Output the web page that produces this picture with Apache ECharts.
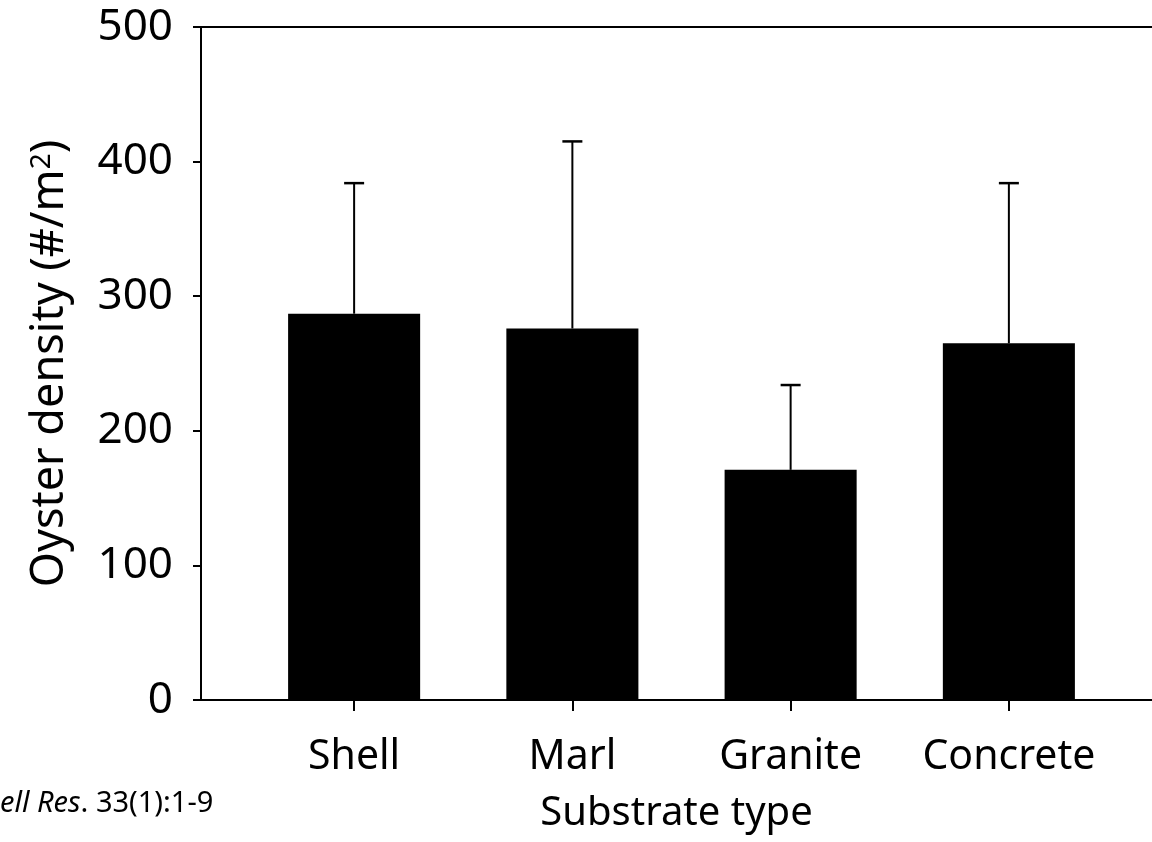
<!DOCTYPE html>
<html><head><meta charset="utf-8">
<script src="https://cdn.jsdelivr.net/npm/echarts@6/dist/echarts.min.js"></script>
<style>html,body{margin:0;padding:0;background:#fff}#c{width:1152px;height:842px}</style>
</head><body><div id="c"></div>
<script>
const categories = ['Shell', 'Marl', 'Granite', 'Concrete'];
const means = [287, 276, 171, 265];
const upperErr = [384, 415, 234, 384];
const yTicks = [0, 100, 200, 300, 400, 500];

const FONT = 'Noto Sans';
const chart = echarts.init(document.getElementById('c'), null, {renderer: 'canvas'});
const axisColor = '#000';

const option = {
  backgroundColor: '#fff',
  animation: false,
  grid: [
    {left: 201, right: 0, top: 27, bottom: 142},
    {left: 245, width: 873, top: 27, bottom: 142}
  ],
  xAxis: [
    { gridIndex: 0, type: 'value', min: 0, max: 1, position: 'bottom',
      axisLine: {show: true, lineStyle: {color: axisColor, width: 2}},
      axisTick: {show: false}, axisLabel: {show: false}, splitLine: {show: false},
      name: 'Substrate type', nameLocation: 'middle', nameGap: 94,
      nameTextStyle: {fontFamily: FONT, fontSize: 40, color: '#000'} },
    { gridIndex: 0, type: 'value', min: 0, max: 1, position: 'top',
      axisLine: {show: true, lineStyle: {color: axisColor, width: 2}},
      axisTick: {show: false}, axisLabel: {show: false}, splitLine: {show: false} },
    { gridIndex: 1, type: 'category', data: categories, position: 'bottom',
      axisLine: {show: false},
      axisTick: {show: true, alignWithLabel: true, length: 11, lineStyle: {color: axisColor, width: 2}},
      axisLabel: {fontFamily: FONT, fontSize: 41, color: '#000', margin: 37, interval: 0, hideOverlap: false},
      splitLine: {show: false} }
  ],
  yAxis: [
    { gridIndex: 0, type: 'value', min: 0, max: 500, interval: 100,
      axisLine: {show: true, lineStyle: {color: axisColor, width: 2}},
      axisTick: {show: true, length: 8, lineStyle: {color: axisColor, width: 2}},
      axisLabel: {fontFamily: FONT, fontSize: 44, color: '#000', margin: 28,
        formatter: v => yTicks.includes(v) ? String(v) : ''},
      splitLine: {show: false},
      name: 'Oyster density (#/m{sup|2})', nameLocation: 'middle', nameGap: 128,
      nameTextStyle: {fontFamily: FONT, fontSize: 45, color: '#000',
        rich: {sup: {fontFamily: FONT, fontSize: 28, verticalAlign: 'top', padding: [0,0,16,0]}}} },
    { gridIndex: 1, type: 'value', min: 0, max: 500, interval: 100, show: false }
  ],
  series: [
    { type: 'bar', xAxisIndex: 2, yAxisIndex: 1, data: means, barWidth: '60.5%',
      itemStyle: {color: '#000'} },
    { type: 'custom', xAxisIndex: 2, yAxisIndex: 1, z: 5,
      data: categories.map((c, i) => [i, means[i], upperErr[i]]),
      renderItem: function (params, api) {
        const b = api.coord([api.value(0), api.value(1)]);
        const t = api.coord([api.value(0), api.value(2)]);
        const hw = 10;
        return { type: 'group', children: [
          {type: 'line', shape: {x1: b[0], y1: b[1], x2: t[0], y2: t[1]}, style: {stroke: '#000', lineWidth: 2}},
          {type: 'line', shape: {x1: t[0] - hw, y1: t[1], x2: t[0] + hw, y2: t[1]}, style: {stroke: '#000', lineWidth: 2.5}}
        ]};
      } }
  ],
  graphic: [
    { type: 'text', left: 0, top: 789,
      style: { text: '{i|ell Res}. 33(1):1-9', fontFamily: FONT, fontSize: 29, fill: '#000',
        rich: {i: {fontFamily: FONT, fontSize: 29, fontStyle: 'italic', fill: '#000'}} } }
  ]
};
chart.setOption(option);
</script></body></html>
